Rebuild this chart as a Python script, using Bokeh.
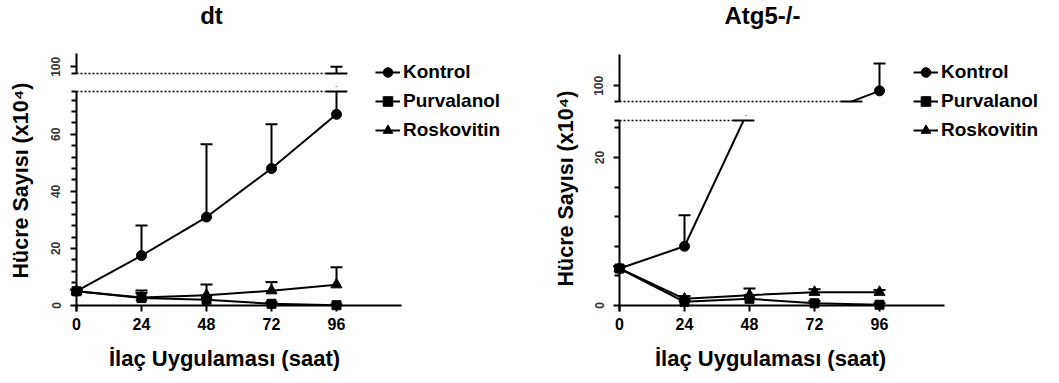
import numpy as np
from bokeh.plotting import figure
from bokeh.models import (Range1d, FixedTicker, Label, Legend, LegendItem,
                          ColumnDataSource)
from bokeh.layouts import row, column
from bokeh.embed import file_html
from bokeh.resources import INLINE

FONT = "Liberation Sans"

# ---------------- data ----------------
hours = [0, 24, 48, 72, 96]
x_tick_values = [0, 24, 48, 72, 96]
series_names = ["Kontrol", "Purvalanol", "Roskovitin"]
series_markers = ["circle", "square", "triangle"]
marker_sizes = [10, 9, 11]

panel_titles = ["dt", "Atg5-/-"]
y_axis_title = "Hücre Sayısı (x10⁴)"
x_axis_title = "İlaç Uygulaması (saat)"

# dt panel
dt_kontrol = [5, 17.5, 31, 48, 67]
dt_kontrol_err = [0.5, 10.5, 25.5, 15.5, 33]
dt_purvalanol = [5, 2.6, 2.0, 0.6, 0.1]
dt_purvalanol_err = [0.5, 1.8, 1.5, 0.6, 0.3]
dt_roskovitin = [5, 2.8, 3.6, 5.2, 7.3]
dt_roskovitin_err = [0.5, 2.5, 3.8, 3.0, 6.1]

# Atg5-/- panel
atg_kontrol = [5, 8, 26.7, 81, 96.8]
atg_kontrol_err = [0.3, 4.2, 3.0, 8.0, 17.5]
atg_purvalanol = [5, 0.5, 0.9, 0.3, 0.1]
atg_purvalanol_err = [0.3, 0.3, 0.5, 0.3, 0.2]
atg_roskovitin = [5, 0.9, 1.4, 1.8, 1.8]
atg_roskovitin_err = [0.3, 0.4, 0.9, 0.4, 0.3]

# broken y-axis segments and ticks
dt_lower_range = (0, 75)
dt_upper_range = (95, 110)
dt_lower_ticks = [0, 20, 40, 60]
dt_upper_ticks = [100]
atg_lower_range = (0, 25)
atg_upper_range = (90, 120)
atg_lower_ticks = [0, 20]
atg_upper_ticks = [100]
minor_step = 4
x_max = 120

# ---------------- geometry (page px) ----------------
PAGE_H = 380
ZERO_Y = 305
PAD = 6
PX_PER_HOUR = 65 / 24
LEG_ROWS = [72, 101, 130]
ROW_H, ROW_GAP = 24, 5


def minor_ticks(lo, hi, majors):
    t = [v for v in np.arange(lo + minor_step, hi, minor_step) if v not in majors]
    return [float(v) for v in t] + [float(hi)]


def crossing(ys, es, level):
    for i in range(len(hours) - 1):
        a, b = ys[i], ys[i + 1]
        if (a - level) * (b - level) < 0:
            return hours[i] + (level - a) * (hours[i + 1] - hours[i]) / (b - a)
    for h, y, e in zip(hours, ys, es):
        if y < level < y + e:
            return h
    return None


def style_axis(ax):
    ax.axis_line_width = 2
    ax.axis_line_color = "black"
    ax.major_tick_line_width = 2
    ax.major_tick_line_color = "black"
    ax.major_tick_out = 6
    ax.major_tick_in = 0
    ax.minor_tick_line_width = 2
    ax.minor_tick_line_color = "black"
    ax.minor_tick_out = 5
    ax.minor_tick_in = 0
    ax.fixed_location = 0


def draw_series(p, ys_list, es_list):
    out = []
    for ys, es, mk, sz in zip(ys_list, es_list, series_markers, marker_sizes):
        src = ColumnDataSource(dict(x=hours, y=ys, top=[y + e for y, e in zip(ys, es)]))
        lr = p.line("x", "y", source=src, line_color="black", line_width=2)
        p.segment(x0="x", y0="y", x1="x", y1="top", source=src,
                  line_color="black", line_width=2)
        p.scatter(x="x", y="top", marker="dash", size=12, source=src,
                  line_color="black", line_width=2)
        sr = p.scatter(x="x", y="y", marker=mk, size=sz, source=src,
                       fill_color="black", line_color="black")
        out.append([lr, sr])
    return out


def mask_and_break(p, level, lo, hi, ys, es, xr):
    # white out the gap of the broken axis, then draw the break line
    p.quad(left=[xr[0]], right=[xr[1]], bottom=[lo], top=[hi],
           fill_color="white", line_color=None)
    xc = crossing(ys, es, level)
    end = xc - 4 if xc is not None else 100
    p.segment(x0=[0], y0=[level], x1=[end], y1=[level], line_color="black",
              line_width=1.5, line_dash="2 2")
    if xc is not None:
        p.segment(x0=[xc - 4], y0=[level], x1=[xc + 4], y1=[level],
                  line_color="black", line_width=2)


def add_legend(p, rens, names, rows, fig_x, frame_bottom, legend_x):
    top = rows[0] - ROW_H / 2
    bottom = top + len(names) * ROW_H + (len(names) - 1) * ROW_GAP
    leg = Legend(items=[LegendItem(label=n, renderers=r) for n, r in zip(names, rens)],
                 location=(legend_x - fig_x, frame_bottom - bottom),
                 orientation="vertical", padding=0, margin=0, spacing=ROW_GAP,
                 glyph_width=25, glyph_height=ROW_H, label_height=ROW_H,
                 label_standoff=3, border_line_alpha=0, background_fill_alpha=0,
                 label_text_font=FONT, label_text_font_size="19px",
                 label_text_font_style="bold", label_text_color="black")
    p.add_layout(leg, "center")


def base_fig(w, h, xr, yr):
    p = figure(width=w, height=h, x_range=Range1d(*xr), y_range=Range1d(*yr),
               output_backend="svg", toolbar_location=None, min_border=0)
    p.grid.visible = False
    p.outline_line_color = None
    return p


def make_panel(g, title, ys_list, es_list, lower_rng, upper_rng, lower_tk, upper_tk, n_upper_rows):
    fx, fw, zx = g["fig_x"], g["fig_w"], g["zero_x"]
    xr = (-(zx - fx) / PX_PER_HOUR, (fx + fw - zx) / PX_PER_HOUR)
    split = g["split"]

    # ----- upper segment figure: page y 0..split
    ub, ut = g["upper_bottom"], g["upper_top"]
    uppu = (ub - ut) / (upper_rng[1] - upper_rng[0])
    up_yr = (upper_rng[0] - (split - ub) / uppu, upper_rng[0] + ub / uppu)
    up = base_fig(fw, split, xr, up_yr)
    up.xaxis.visible = False
    ax = up.yaxis[0]
    style_axis(ax)
    ax.bounds = upper_rng
    ax.ticker = FixedTicker(ticks=upper_tk, minor_ticks=[float(upper_rng[0])])

    # ----- lower segment figure: page y split..PAGE_H
    lt = g["lower_top"]
    lppu = (ZERO_Y - lt) / (lower_rng[1] - lower_rng[0])
    lo_yr = (lower_rng[0] - (PAGE_H - ZERO_Y) / lppu, lower_rng[0] + (ZERO_Y - split) / lppu)
    lo = base_fig(fw, PAGE_H - split, xr, lo_yr)
    ax = lo.yaxis[0]
    style_axis(ax)
    ax.bounds = (lower_rng[0] - PAD / lppu, lower_rng[1])
    ax.ticker = FixedTicker(ticks=lower_tk,
                            minor_ticks=minor_ticks(lower_rng[0], lower_rng[1], lower_tk))
    for p in (up, lo):
        ya = p.yaxis[0]
        ya.major_label_orientation = "vertical"
        ya.major_label_text_font = FONT
        ya.major_label_text_font_size = "12px"
        ya.major_label_text_font_style = "bold"
        ya.major_label_text_color = "#333333"
        ya.major_label_standoff = 10

    xa = lo.xaxis[0]
    style_axis(xa)
    xa.bounds = (0, x_max)
    xa.ticker = FixedTicker(ticks=x_tick_values, minor_ticks=[])
    xa.major_label_text_font = FONT
    xa.major_label_text_font_size = "16px"
    xa.major_label_text_font_style = "bold"
    xa.major_label_text_color = "black"
    xa.major_label_standoff = 6

    up_r = draw_series(up, ys_list, es_list)
    lo_r = draw_series(lo, ys_list, es_list)
    mask_and_break(up, upper_rng[0], up_yr[0], upper_rng[0], ys_list[0], es_list[0], xr)
    mask_and_break(lo, lower_rng[1], lower_rng[1], lo_yr[1], ys_list[0], es_list[0], xr)

    add_legend(up, up_r[:n_upper_rows], series_names[:n_upper_rows],
               LEG_ROWS[:n_upper_rows], fx, split, g["legend_x"])
    add_legend(lo, lo_r[n_upper_rows:], series_names[n_upper_rows:],
               LEG_ROWS[n_upper_rows:], fx, PAGE_H, g["legend_x"])

    tx, ty = g["title_xy"]
    up.add_layout(Label(x=tx - fx, y=split - ty, x_units="screen", y_units="screen",
                        text=title, text_align="center", text_baseline="middle",
                        text_font=FONT, text_font_size="24px", text_font_style="bold",
                        text_color="black"))
    lx, ly = g["xlab_xy"]
    lo.add_layout(Label(x=lx - fx, y=PAGE_H - ly, x_units="screen", y_units="screen",
                        text=x_axis_title, text_align="center", text_baseline="middle",
                        text_font=FONT, text_font_size="22px", text_font_style="bold",
                        text_color="black"))
    return column(up, lo)


def ylabel_fig(x0, width, cx, cy):
    p = base_fig(width, PAGE_H, (0, 1), (0, 1))
    p.xaxis.visible = False
    p.yaxis.visible = False
    p.add_layout(Label(x=cx - x0, y=PAGE_H - cy, x_units="screen", y_units="screen",
                       text=y_axis_title, angle=np.pi / 2, text_align="center",
                       text_baseline="middle", text_font=FONT, text_font_size="21.5px",
                       text_font_style="bold", text_color="black"))
    return p


left_geom = dict(fig_x=40, fig_w=505, zero_x=76, lower_top=91, upper_bottom=73,
                 upper_top=53, split=86, legend_x=375, title_xy=(211, 15),
                 xlab_xy=(224, 358))
right_geom = dict(fig_x=585, fig_w=466, zero_x=619, lower_top=120, upper_bottom=101,
                  upper_top=54, split=115, legend_x=913, title_xy=(762, 15),
                  xlab_xy=(770, 358))

left_panel = make_panel(left_geom, panel_titles[0],
                        [dt_kontrol, dt_purvalanol, dt_roskovitin],
                        [dt_kontrol_err, dt_purvalanol_err, dt_roskovitin_err],
                        dt_lower_range, dt_upper_range, dt_lower_ticks, dt_upper_ticks, 1)
right_panel = make_panel(right_geom, panel_titles[1],
                         [atg_kontrol, atg_purvalanol, atg_roskovitin],
                         [atg_kontrol_err, atg_purvalanol_err, atg_roskovitin_err],
                         atg_lower_range, atg_upper_range, atg_lower_ticks, atg_upper_ticks, 2)

layout = row(ylabel_fig(0, 40, 20, 180), left_panel,
             ylabel_fig(545, 40, 565, 188), right_panel)

open("out.html", "w").write(file_html(layout, INLINE, title="Hücre Sayısı"))
